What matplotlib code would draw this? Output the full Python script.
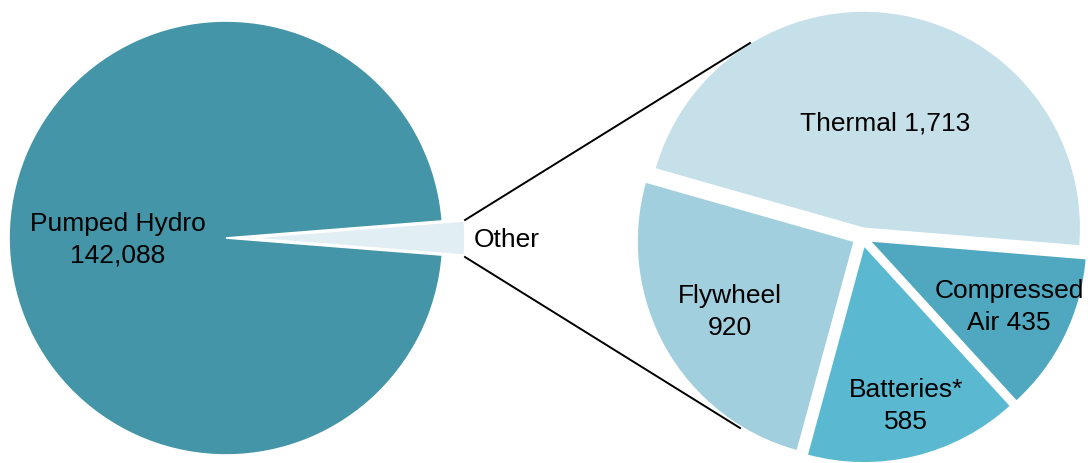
import matplotlib
matplotlib.use("Agg")
import matplotlib.pyplot as plt

# Data
left_labels = ["Other", "Pumped Hydro"]
pumped_hydro = 142088
other_labels = ["Thermal", "Flywheel", "Batteries*", "Compressed Air"]
other_values = [1713, 920, 585, 435]
other_total = sum(other_values)
left_values = [other_total, pumped_hydro]

left_colors = ["#e1eef3", "#4395a7"]
right_colors = ["#c6e0ea", "#a1cfdd", "#5ab9d1", "#4fa8bf"]

W, H = 1088, 463
plt.rcParams['font.family'] = ['Liberation Sans', 'DejaVu Sans']
fig = plt.figure(figsize=(W / 100, H / 100), dpi=100)
ax = fig.add_axes([0, 0, 1, 1])

def py(y):
    return H - y

# Left pie (explode in data units = pixels here)
other_frac = other_total / sum(left_values)
ax.pie(left_values, colors=left_colors, center=(226, py(238)), radius=217,
       startangle=-other_frac * 360 / 2, counterclock=True,
       explode=[22, 0], wedgeprops=dict(edgecolor="white", linewidth=1.2))

# Right pie
ax.pie(other_values, colors=right_colors, center=(862, py(237)), radius=217,
       startangle=-4.7, counterclock=True,
       explode=[9] * 4, wedgeprops=dict(edgecolor="white", linewidth=1.0))

ax.set_xlim(0, W)
ax.set_ylim(0, H)
ax.set_aspect("equal")
ax.axis("off")

# Connector lines
ax.plot([465, 750], [py(220), py(43)], color="black", lw=1.4)
ax.plot([465, 740], [py(257), py(428)], color="black", lw=1.4)

fs = 19
ls = 1.38
def fmt(v):
    return f"{v:,}"

ax.text(118, py(240), f"Pumped Hydro\n{fmt(pumped_hydro)}", ha="center", va="center",
        fontsize=fs, linespacing=ls)
ax.text(474, py(240), "Other", ha="left", va="center", fontsize=fs)
ax.text(885, py(123), f"Thermal {fmt(other_values[0])}", ha="center", va="center", fontsize=fs)
ax.text(730, py(312), f"Flywheel\n{fmt(other_values[1])}", ha="center", va="center",
        fontsize=fs, linespacing=ls)
ax.text(906, py(406), f"Batteries*\n{fmt(other_values[2])}", ha="center", va="center",
        fontsize=fs, linespacing=ls)
ax.text(1009, py(307), f"Compressed\nAir {fmt(other_values[3])}", ha="center", va="center",
        fontsize=fs, linespacing=ls)

fig.savefig("out.png", dpi=100)
